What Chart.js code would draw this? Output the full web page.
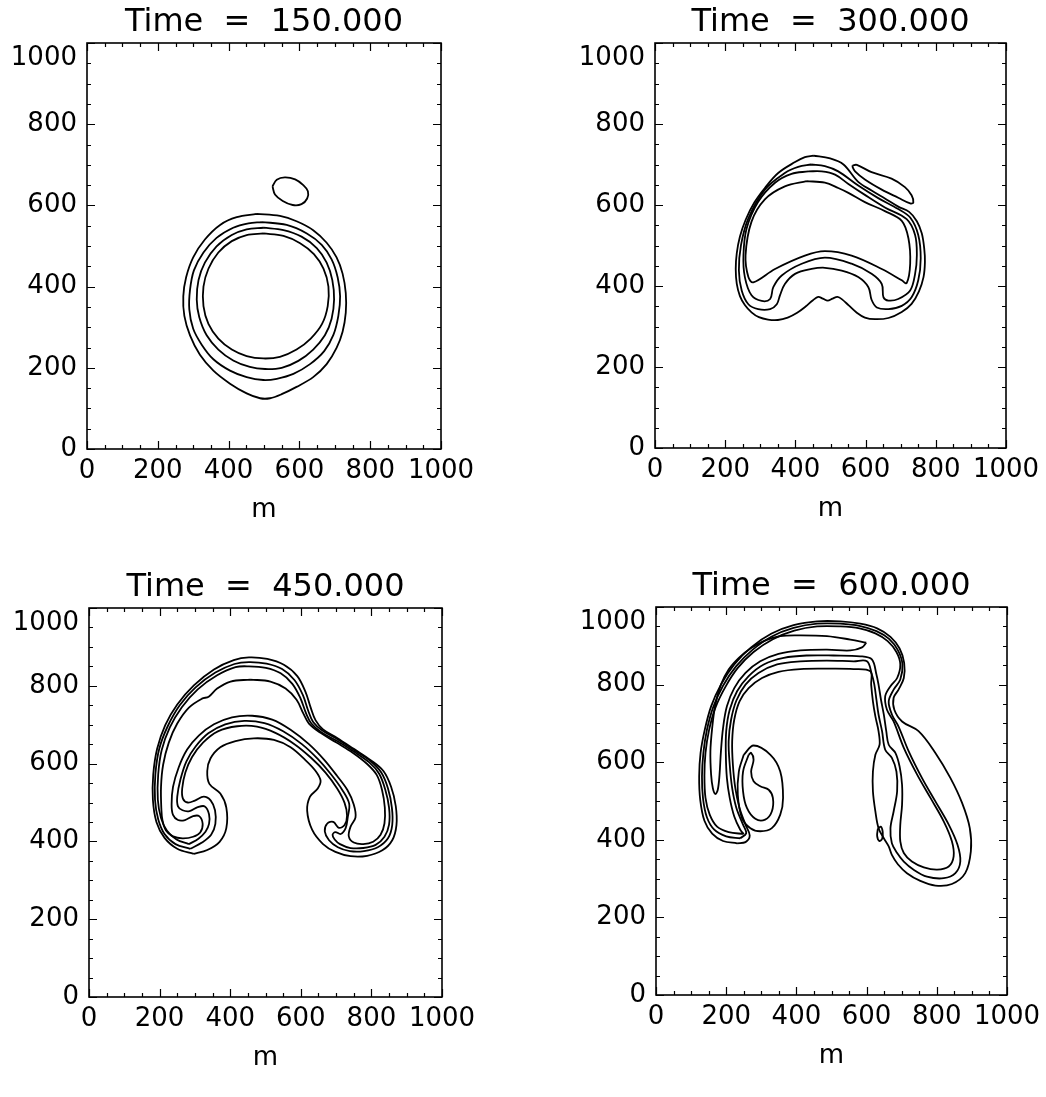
<!DOCTYPE html>
<html>
<head>
<meta charset="utf-8">
<title>Contours</title>
<script src="https://cdn.jsdelivr.net/npm/chart.js@4.4.0/dist/chart.umd.min.js"></script>
<style>
  html, body { margin: 0; padding: 0; background: #fff; overflow: hidden; }
  body { width: 1046px; height: 1097px; position: relative; }
  canvas { position: absolute; }
</style>
</head>
<body>
<canvas id="p1"></canvas>
<canvas id="p2"></canvas>
<canvas id="p3"></canvas>
<canvas id="p4"></canvas>
<script>
// ── Data (x, y in metres) ────────────────────────────────────────────────
const TIMES   = [150, 300, 450, 600];
const X_TICKS = [0, 200, 400, 600, 800, 1000];
const Y_TICKS = [0, 200, 400, 600, 800, 1000];
const MINOR_STEP = 50;
const X_TITLE = 'm';

// Time = 150
const t150_c1 = [[479,579],[545,574],[592,561],[639,539],[677,508],[705,472],[722,432],[731,384],[731,336],[722,289],[705,249],[677,209],[639,177],[592,153],[550,135],[517,125],[489,125],[451,137],[404,161],[357,193],[319,232],[291,280],[275,328],[272,376],[280,423],[300,472],[333,516],[376,552],[423,571],[479,579]];
const t150_c2 = [[493,559],[564,552],[621,531],[663,503],[691,467],[708,423],[715,376],[710,328],[696,281],[670,241],[630,209],[583,185],[536,173],[498,170],[451,177],[404,193],[357,221],[324,257],[300,296],[289,344],[291,392],[302,440],[329,484],[366,520],[413,545],[456,556],[493,559]];
const t150_c3 = [[498,545],[555,539],[606,523],[649,495],[677,459],[693,416],[698,368],[691,321],[672,280],[639,245],[597,217],[550,200],[503,197],[460,202],[413,218],[371,245],[338,280],[317,325],[310,368],[315,416],[333,459],[366,499],[409,527],[451,541],[498,545]];
const t150_c4 = [[498,531],[555,525],[602,507],[641,480],[668,444],[682,400],[680,352],[664,308],[632,272],[592,245],[545,227],[498,223],[451,229],[409,245],[371,272],[343,308],[329,352],[329,400],[343,444],[371,484],[409,512],[451,527],[498,531]];
const t150_blob = [[524,647],[536,663],[559,669],[588,664],[611,650],[624,635],[622,617],[606,603],[581,601],[553,611],[531,627],[524,647]];

// Time = 300
const t300_c1 = [[451,722],[499,715],[537,700],[579,657],[617,636],[655,616],[693,596],[724,583],[746,560],[760,530],[767,493],[769,459],[765,422],[752,387],[731,356],[703,336],[665,321],[627,318],[598,322],[575,334],[552,352],[533,367],[520,373],[506,369],[492,364],[478,369],[465,373],[450,365],[430,350],[405,334],[378,322],[350,316],[322,317],[296,323],[275,335],[256,353],[242,375],[233,405],[230,442],[233,481],[242,522],[258,563],[283,606],[313,642],[351,679],[399,706],[427,718],[451,722]];
const t300_c2 = [[445,700],[484,696],[522,683],[579,648],[636,617],[693,590],[727,569],[750,526],[757,468],[750,414],[731,372],[703,351],[665,343],[632,347],[617,366],[608,397],[579,422],[532,438],[484,445],[446,442],[399,430],[370,405],[356,377],[347,355],[328,343],[294,343],[266,355],[247,389],[239,438],[245,501],[266,567],[313,638],[370,679],[408,694],[445,700]];
const t300_c3 = [[437,683],[475,683],[513,675],[551,652],[598,625],[655,594],[717,565],[741,526],[746,476],[741,430],[727,389],[693,368],[665,364],[651,372],[646,405],[617,430],[560,455],[484,470],[418,455],[361,426],[337,397],[328,368],[304,363],[275,377],[256,422],[252,476],[261,542],[294,608],[342,655],[389,677],[437,683]];
const t300_c4 = [[432,659],[484,655],[522,642],[551,630],[598,607],[655,585],[703,561],[722,518],[727,455],[717,407],[703,414],[646,442],[560,475],[484,486],[427,475],[342,442],[280,409],[266,422],[258,476],[275,559],[313,614],[370,646],[432,659]];
const t300_blob = [[563,698],[575,699],[617,681],[674,665],[712,644],[731,624],[736,606],[727,604],[693,618],[646,638],[598,663],[570,683],[563,694],[563,698]];

// Time = 450
const t450_c1 = [[297,368],[250,381],[214,409],[191,450],[181,507],[182,572],[193,638],[216,699],[250,752],[297,801],[354,842],[410,866],[453,873],[505,869],[552,854],[590,825],[613,785],[628,744],[642,711],[663,688],[703,666],[750,638],[798,609],[834,581],[856,540],[869,491],[871,442],[859,403],[831,377],[788,363],[741,362],[698,373],[663,393],[632,430],[618,479],[626,515],[648,536],[656,556],[642,581],[613,609],[571,642],[524,661],[467,665],[415,658],[372,642],[344,613],[335,581],[341,548],[372,523],[389,487],[389,434],[370,399],[335,378],[297,368]];
const t450_c2 = [[287,381],[245,393],[214,419],[196,457],[187,507],[188,572],[199,638],[223,696],[257,750],[302,796],[358,834],[412,856],[453,861],[503,857],[547,843],[582,815],[606,776],[621,736],[635,707],[661,685],[705,662],[752,634],[798,606],[828,577],[847,536],[858,487],[859,442],[847,408],[818,385],[779,375],[739,375],[705,385],[680,403],[668,426],[675,446],[692,450],[708,435],[724,442],[731,466],[724,499],[703,536],[670,577],[629,615],[582,650],[528,679],[476,695],[420,696],[365,683],[323,654],[292,617],[273,577],[264,536],[266,510],[280,500],[300,505],[325,515],[345,505],[357,480],[358,445],[346,417],[320,397],[287,381]];
const t450_c3 = [[283,393],[248,405],[221,427],[204,460],[195,507],[196,572],[206,635],[229,693],[263,745],[308,791],[363,827],[415,848],[453,850],[501,846],[543,832],[576,805],[599,768],[615,729],[630,703],[659,680],[703,658],[750,631],[794,603],[822,574],[839,534],[850,487],[850,443],[837,412],[812,391],[777,383],[741,383],[711,393],[696,405],[690,417],[698,424],[713,419],[727,434],[733,462],[737,497],[717,533],[686,572],[648,612],[603,650],[550,683],[497,704],[440,710],[386,701],[338,678],[302,644],[276,606],[259,559],[250,515],[252,490],[265,480],[285,478],[308,488],[328,490],[340,470],[340,445],[330,425],[310,407],[283,393]];
const t450_c4 = [[457,816],[514,811],[557,793],[588,764],[607,729],[623,703],[656,679],[701,654],[747,628],[788,599],[815,571],[830,533],[838,487],[837,446],[826,417],[805,399],[777,393],[750,397],[736,413],[741,438],[755,462],[750,495],[732,532],[703,568],[667,609],[623,650],[571,687],[519,713],[462,723],[405,719],[354,701],[311,672],[278,636],[254,590],[238,540],[234,495],[238,468],[252,455],[272,455],[295,465],[312,465],[322,445],[315,423],[295,412],[265,408],[238,413],[218,428],[208,455],[205,483],[204,540],[210,597],[226,654],[250,703],[283,744],[320,767],[339,772],[363,793],[401,811],[457,816]];

// Time = 600
const t600_c1 = [[231,391],[191,397],[160,416],[138,449],[126,503],[123,563],[127,624],[139,684],[157,744],[185,800],[223,852],[271,896],[328,931],[392,953],[459,963],[525,963],[582,957],[630,945],[668,923],[694,893],[707,856],[706,817],[691,787],[677,766],[679,735],[701,705],[748,680],[796,624],[839,559],[872,495],[894,430],[897,370],[881,314],[843,286],[796,282],[753,294],[715,314],[689,337],[672,361],[663,383],[649,404],[634,430],[625,473],[618,525],[618,576],[625,619],[637,645],[634,680],[625,718],[618,757],[613,800],[611,834],[563,840],[487,841],[411,840],[349,833],[302,817],[264,791],[238,757],[223,710],[217,654],[219,594],[226,533],[238,482],[255,439],[267,411],[255,394],[231,391]];
const t600_c2 = [[240,404],[200,409],[166,426],[145,458],[134,506],[131,563],[135,624],[145,683],[163,742],[191,797],[228,847],[274,889],[330,924],[392,946],[459,957],[525,957],[582,951],[628,938],[664,918],[689,889],[702,853],[696,813],[677,787],[663,757],[672,723],[691,692],[720,628],[758,559],[796,499],[834,439],[859,387],[867,344],[853,314],[820,301],[772,305],[734,323],[706,344],[687,366],[672,391],[668,430],[677,473],[687,525],[685,576],[672,611],[653,632],[644,680],[634,723],[628,761],[622,800],[615,826],[601,860],[563,860],[487,862],[411,860],[345,852],[292,830],[255,800],[229,759],[214,710],[207,654],[210,594],[217,533],[229,482],[248,439],[257,417],[240,404]];
const t600_c3 = [[250,415],[207,420],[174,434],[153,465],[141,508],[138,565],[141,624],[151,682],[169,740],[197,793],[233,843],[278,884],[333,917],[394,939],[459,950],[525,950],[580,945],[625,932],[660,912],[685,884],[696,852],[687,817],[668,796],[653,770],[658,735],[677,705],[706,637],[744,568],[782,508],[820,447],[843,396],[848,357],[834,331],[801,323],[763,329],[729,344],[706,366],[696,396],[696,439],[701,490],[701,542],[694,589],[682,624],[663,645],[656,680],[649,723],[641,761],[634,800],[628,826],[615,865],[582,873],[506,875],[430,875],[364,869],[307,852],[264,822],[231,783],[210,735],[200,680],[199,619],[202,559],[210,508],[223,460],[240,426],[250,415]];
const t600_c4 = [[599,908],[554,916],[487,925],[411,927],[354,925],[307,912],[269,893],[236,869],[207,839],[185,800],[169,748],[160,688],[155,628],[157,568],[162,533],[169,518],[176,529],[181,568],[185,628],[191,688],[202,744],[223,791],[255,830],[297,860],[349,879],[411,888],[487,890],[554,888],[587,896],[599,908]];
const t600_lobeOuter = [[250,619],[278,643],[326,619],[354,576],[362,508],[354,465],[330,430],[297,422],[269,430],[245,456],[233,516],[236,576],[250,619]];
const t600_lobeInner = [[264,619],[248,576],[248,525],[259,482],[283,454],[311,452],[330,473],[333,508],[321,529],[297,538],[278,551],[271,576],[278,606],[271,624],[264,619]];
const t600_speck = [[632,428],[640,434],[646,420],[644,402],[636,397],[630,410],[632,428]];

const PANEL_CONTOURS = [
  [t150_c1, t150_c2, t150_c3, t150_c4, t150_blob],
  [t300_c1, t300_c2, t300_c3, t300_c4, t300_blob],
  [t450_c1, t450_c2, t450_c3, t450_c4],
  [t600_c1, t600_c2, t600_c3, t600_c4, t600_lobeOuter, t600_lobeInner, t600_speck],
];

// ── Layout: plot-box edges in page pixels ────────────────────────────────
const BOXES = [
  { l: 87,  t: 43,  r: 441,  b: 449 },
  { l: 655, t: 43,  r: 1006, b: 448 },
  { l: 89,  t: 608, r: 442,  b: 997 },
  { l: 656, t: 607, r: 1007, b: 995 },
];
const PAD_L = 85, PAD_T = 45, PAD_R = 45, PAD_B = 80;
const FONT = '"DejaVu Sans", sans-serif';

Chart.defaults.color = '#000';
Chart.defaults.font.family = FONT;

// Frame round the plot plus inward major/minor ticks on all four sides.
const frameTicks = {
  id: 'frameTicks',
  afterDraw(chart) {
    const { ctx, chartArea: a, scales: { x, y } } = chart;
    ctx.save();
    ctx.strokeStyle = '#000';
    ctx.lineWidth = 1.6;
    ctx.strokeRect(a.left, a.top, a.right - a.left, a.bottom - a.top);
    ctx.lineWidth = 1.2;
    ctx.beginPath();
    for (let v = x.min; v <= x.max; v += MINOR_STEP) {
      const len = X_TICKS.includes(v) ? 8 : 4;
      const px = Math.round(x.getPixelForValue(v)) + 0.5;
      ctx.moveTo(px, a.bottom); ctx.lineTo(px, a.bottom - len);
      ctx.moveTo(px, a.top);    ctx.lineTo(px, a.top + len);
    }
    for (let v = y.min; v <= y.max; v += MINOR_STEP) {
      const len = Y_TICKS.includes(v) ? 8 : 4;
      const py = Math.round(y.getPixelForValue(v)) + 0.5;
      ctx.moveTo(a.left, py);  ctx.lineTo(a.left + len, py);
      ctx.moveTo(a.right, py); ctx.lineTo(a.right - len, py);
    }
    ctx.stroke();
    ctx.restore();
  }
};

function axis(ticks, extra) {
  return Object.assign({
    type: 'linear',
    min: ticks[0],
    max: ticks[ticks.length - 1],
    afterBuildTicks: s => { s.ticks = ticks.map(v => ({ value: v })); },
    grid: { display: false, drawTicks: false },
    border: { display: false },
  }, extra);
}

function makePanel(idx) {
  const box = BOXES[idx];
  const canvas = document.getElementById('p' + (idx + 1));
  canvas.width  = box.r - box.l + PAD_L + PAD_R;
  canvas.height = box.b - box.t + PAD_T + PAD_B;
  canvas.style.left = (box.l - PAD_L) + 'px';
  canvas.style.top  = (box.t - PAD_T) + 'px';

  const datasets = PANEL_CONTOURS[idx].map(line => ({
    data: line.map(([x, y]) => ({ x, y })),
    showLine: true,
    borderColor: '#000',
    borderWidth: 1.8,
    pointRadius: 0,
    tension: 0.35,
    fill: false,
  }));

  const tickFont = { family: FONT, size: 26 };
  const yMax = Y_TICKS[Y_TICKS.length - 1];

  return new Chart(canvas, {
    type: 'scatter',
    data: { datasets },
    options: {
      responsive: false,
      animation: false,
      devicePixelRatio: 1,
      events: [],
      layout: { padding: { right: PAD_R } },
      plugins: {
        legend: { display: false },
        tooltip: { enabled: false },
        title: {
          display: true,
          fullSize: false,
          text: 'Time  =  ' + TIMES[idx].toFixed(3),
          color: '#000',
          font: { family: FONT, size: 32, weight: 'normal', lineHeight: 1 },
          padding: { top: 9, bottom: 4 },
        },
      },
      scales: {
        x: axis(X_TICKS, {
          afterFit: s => { s.height = PAD_B; },
          ticks: { color: '#000', font: tickFont, padding: 7, autoSkip: false, maxRotation: 0, callback: v => String(v) },
          title: { display: true, text: X_TITLE, color: '#000', font: tickFont, padding: { top: 0, bottom: 3 } },
        }),
        y: axis(Y_TICKS, {
          afterFit: s => { s.width = PAD_L; },
          // top label sits a little below its tick, as in the original plot
          ticks: { color: '#000', font: tickFont, padding: 10, autoSkip: false,
                   callback: v => (v === yMax ? ['', String(v)] : String(v)) },
        }),
      },
    },
    plugins: [frameTicks],
  });
}

[0, 1, 2, 3].forEach(makePanel);
</script>
</body>
</html>
